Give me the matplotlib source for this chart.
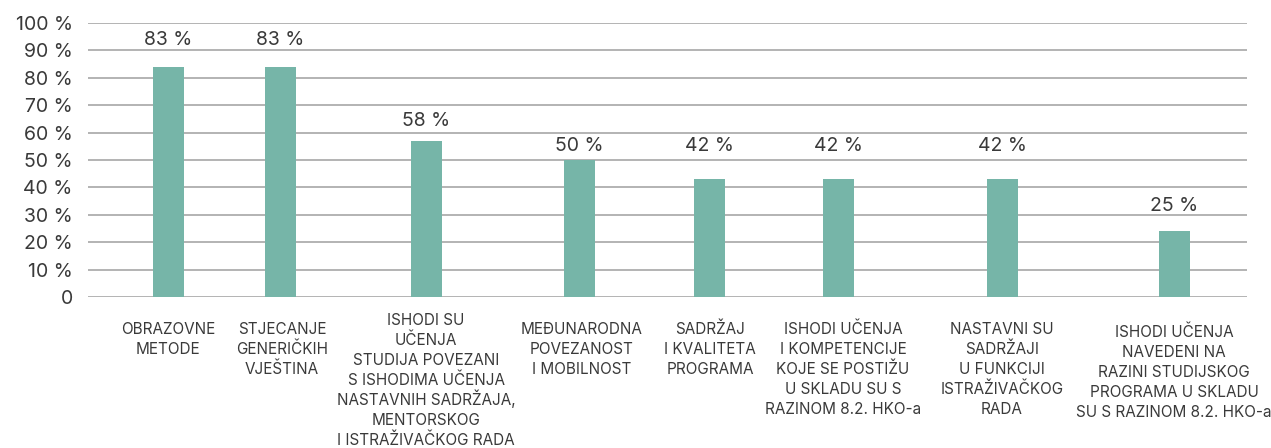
import matplotlib
matplotlib.use("Agg")
import matplotlib.pyplot as plt
from matplotlib.ticker import FuncFormatter

categories = [
    "OBRAZOVNE\nMETODE",
    "STJECANJE\nGENERIČKIH\nVJEŠTINA",
    "ISHODI SU\nUČENJA\nSTUDIJA POVEZANI\nS ISHODIMA UČENJA\nNASTAVNIH SADRŽAJA,\nMENTORSKOG\nI ISTRAŽIVAČKOG RADA",
    "MEĐUNARODNA\nPOVEZANOST\nI MOBILNOST",
    "SADRŽAJ\nI KVALITETA\nPROGRAMA",
    "ISHODI UČENJA\nI KOMPETENCIJE\nKOJE SE POSTIŽU\nU SKLADU SU S\nRAZINOM 8.2. HKO-a",
    "NASTAVNI SU\nSADRŽAJI\nU FUNKCIJI\nISTRAŽIVAČKOG\nRADA",
    "ISHODI UČENJA\nNAVEDENI NA\nRAZINI STUDIJSKOG\nPROGRAMA U SKLADU\nSU S RAZINOM 8.2. HKO-a",
]
values = [84, 84, 57, 50, 43, 43, 43, 24]
value_labels = ["83 %", "83 %", "58 %", "50 %", "42 %", "42 %", "42 %", "25 %"]
yticks = [0, 10, 20, 30, 40, 50, 60, 70, 80, 90, 100]

# layout (not data)
x_pos = [80, 192, 338, 491, 621, 750, 914, 1086]
label_y = [93.8, 93.8, 64.2, 55.1, 55.1, 55.1, 55.1, 33.2]
cat_x_shift = [0, 2, 0, 3, 1, 5, 0, 0]
cat_baseline_px = [334, 334, 325, 334, 334, 334, 334, 337]
LINE_PX = 20
H = 448

plt.rcParams['font.family'] = ['Inter', 'DejaVu Sans']
TEXT = "#3a3a3a"
fig = plt.figure(figsize=(12.71, 4.48), dpi=100)
ax = fig.add_axes([88/1271, 1-297/448, (1247-88)/1271, (297-23)/448])
ax.set_xlim(0, 1159)
ax.set_ylim(0, 100)
ax.set_yticks(yticks)
ax.yaxis.set_major_formatter(FuncFormatter(lambda v, p: "0" if v == 0 else f"{int(v)} %"))
ax.tick_params(axis='y', length=0, pad=11, labelsize=14, labelcolor=TEXT)
ax.set_xticks([])
for s in ax.spines.values():
    s.set_visible(False)
for t in yticks:
    ax.axhline(t, color="#b3b3b3", lw=1.4, zorder=0)

ax.bar(x_pos, values, width=31, color="#76b5a8", zorder=2)
for x, ly, lab in zip(x_pos, label_y, value_labels):
    ax.text(x, ly, lab, ha='center', va='center', fontsize=14, color=TEXT)

for x, dx, bpx, c in zip(x_pos, cat_x_shift, cat_baseline_px, categories):
    for i, line in enumerate(c.split("\n")):
        ax.annotate(line, xy=(x + dx, H - (bpx + i * LINE_PX)),
                    xycoords=('data', 'figure pixels'),
                    ha='center', va='baseline', fontsize=11, color=TEXT,
                    annotation_clip=False)

fig.savefig("out.png", dpi=100)
